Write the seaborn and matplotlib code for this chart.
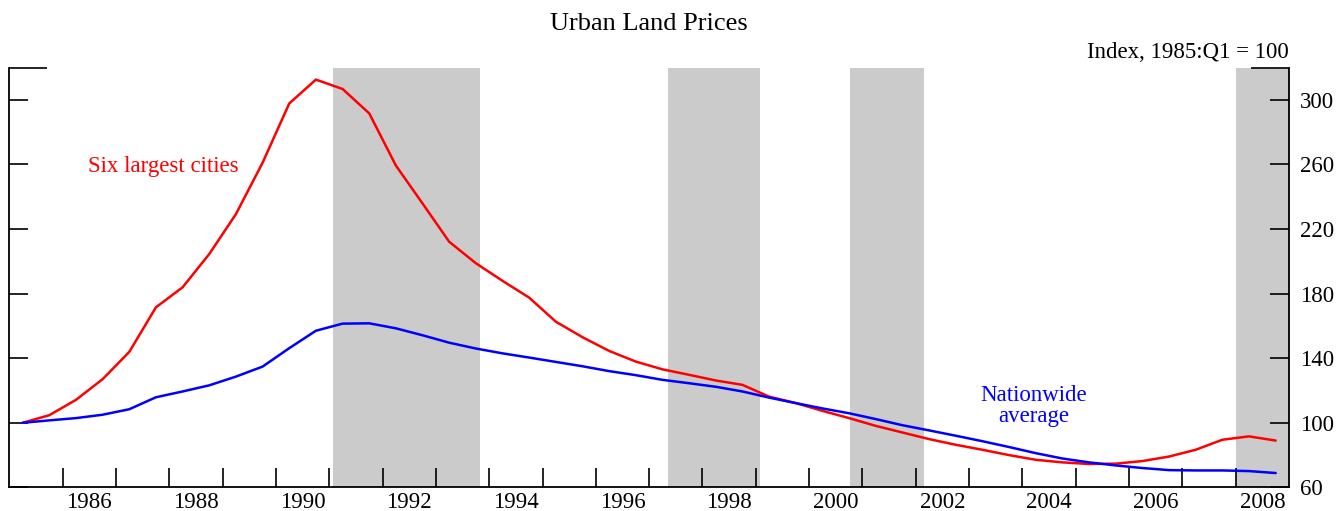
'''Urban land prices chart - six largest cities vs nationwide average'''
import matplotlib
matplotlib.use('Agg')
import matplotlib.pyplot as plt
import numpy
import pandas
import seaborn as sns

#region Data
# semi-annual observations (end of March / end of September)
dates = [1985.25, 1985.75, 1986.25, 1986.75, 1987.25, 1987.75, 1988.25, 1988.75,
         1989.25, 1989.75, 1990.25, 1990.75, 1991.25, 1991.75, 1992.25, 1992.75,
         1993.25, 1993.75, 1994.25, 1994.75, 1995.25, 1995.75, 1996.25, 1996.75,
         1997.25, 1997.75, 1998.25, 1998.75, 1999.25, 1999.75, 2000.25, 2000.75,
         2001.25, 2001.75, 2002.25, 2002.75, 2003.25, 2003.75, 2004.25, 2004.75,
         2005.25, 2005.75, 2006.25, 2006.75, 2007.25, 2007.75, 2008.25, 2008.75]

six_largest = [100.0, 104.7, 114.2, 127.0, 143.9, 171.5, 183.9, 204.5,
               229.2, 261.0, 297.7, 312.5, 306.7, 291.6, 259.3, 235.8,
               212.1, 198.8, 187.9, 177.5, 162.6, 153.0, 144.5, 137.9,
               133.1, 129.7, 126.2, 123.5, 116.2, 112.2, 107.4, 102.9,
               98.1, 94.0, 89.9, 86.4, 83.3, 80.0, 77.1, 75.5,
               74.5, 74.7, 76.3, 79.1, 83.3, 89.5, 91.6, 89.0]

nationwide = [100.0, 101.5, 102.9, 105.0, 108.4, 115.8, 119.4, 123.2,
              128.6, 134.8, 146.2, 157.0, 161.4, 161.6, 158.5, 154.2,
              149.6, 146.0, 143.0, 140.4, 137.7, 135.0, 132.0, 129.5,
              126.6, 124.5, 122.3, 119.4, 115.6, 112.2, 108.9, 105.9,
              102.3, 98.5, 95.3, 92.0, 88.6, 85.0, 81.2, 77.9,
              75.5, 73.6, 72.0, 70.7, 70.5, 70.5, 70.1, 68.9]

# recession periods (start, end)
recessions = [(1991.08, 1993.83), (1997.35, 1999.08), (2000.76, 2002.15), (2008.0, 2009.0)]

year_ticks = list(range(1986, 2009))
label_years = list(range(1986, 2009, 2))
y_ticks = [60, 100, 140, 180, 220, 260, 300]
#endregion

df = pandas.DataFrame({'date': dates, 'six': six_largest, 'nation': nationwide})

sns.set_style('ticks')
plt.rcParams['font.family'] = ['Liberation Serif', 'DejaVu Serif']
plt.rcParams['text.color'] = 'black'
plt.rcParams['xtick.color'] = 'black'
plt.rcParams['ytick.color'] = 'black'
plt.rcParams['xtick.labelcolor'] = 'black'
plt.rcParams['ytick.labelcolor'] = 'black'

W, H = 1339, 511
fig = plt.figure(figsize=(W / 100, H / 100), dpi=100)
left, right, top, bottom = 9.3, 1289, 68.3, 487.4
ax = fig.add_axes([left / W, 1 - bottom / H, (right - left) / W, (bottom - top) / H])

for start, end in recessions:
    ax.axvspan(start, end, color='#CBCBCB', lw=0, zorder=0)

sns.lineplot(data=df, x='date', y='six', color='#FF0000', lw=1.8, ax=ax, zorder=3)
sns.lineplot(data=df, x='date', y='nation', color='#0000FF', lw=1.8, ax=ax, zorder=3)

ax.set_xlim(1985, 2009)
ax.set_ylim(60, 319.5)
ax.set_xlabel('')
ax.set_ylabel('')

#region Axis
ax.set_xticks(year_ticks)
ax.set_xticklabels([])
ax.set_xticks([y + 0.5 for y in label_years], minor=True)
ax.set_xticklabels([str(y) for y in label_years], minor=True)
ax.tick_params(axis='x', which='major', direction='in', length=13.7, width=1.2)
ax.tick_params(axis='x', which='minor', length=0, pad=3.5, labelsize=16.5)

ax.set_yticks(y_ticks)
ax.set_yticks([319.5], minor=True)
ax.tick_params(axis='y', which='both', left=True, right=True, labelleft=False, labelright=True,
               direction='in', width=1.2, labelsize=16.5, pad=8)
ax.tick_params(axis='y', which='major', length=13.7)
ax.tick_params(axis='y', which='minor', length=27.5)
ax.set_yticklabels([], minor=True)

for side in ['left', 'right', 'bottom']:
    ax.spines[side].set_visible(True)
    ax.spines[side].set_linewidth(1.3)
    ax.spines[side].set_color('black')
ax.spines['top'].set_visible(False)
ax.set_facecolor('white')
#endregion

#region Text
fig.text(649 / W, 1 - 24 / H, 'Urban Land Prices', ha='center', va='center', fontsize=19)
fig.text(1289 / W, 1 - 57.5 / H, 'Index, 1985:Q1 = 100', ha='right', va='baseline', fontsize=16.5)

ax.text(1986.48, 255, 'Six largest cities', color='#FF0000', ha='left', va='baseline', fontsize=16.5)
ax.text(2004.21, 113.4, 'Nationwide', color='#0000FF', ha='center', va='baseline', fontsize=16.5)
ax.text(2004.21, 100.2, 'average', color='#0000FF', ha='center', va='baseline', fontsize=16.5)
#endregion

fig.savefig('out.png', dpi=100)
